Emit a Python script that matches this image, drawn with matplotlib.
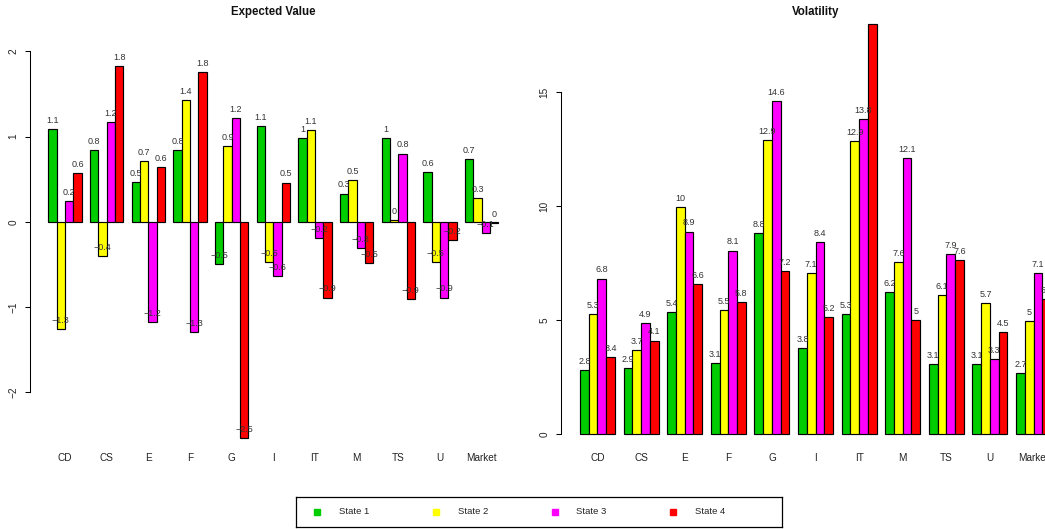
import matplotlib
matplotlib.use("Agg")
import matplotlib.pyplot as plt

plt.rcParams['font.family'] = ['Liberation Sans', 'DejaVu Sans']

sectors = ["CD", "CS", "E", "F", "G", "I", "IT", "M", "TS", "U", "Market"]
states = ["State 1", "State 2", "State 3", "State 4"]
state_colors = ["#00CD00", "#FFFF00", "#FF00FF", "#FF0000"]

# Expected value per sector, one list per state
ev_state1 = [1.09, 0.84, 0.47, 0.84, -0.50, 1.12, 0.98, 0.33, 0.98, 0.58, 0.74]
ev_state2 = [-1.26, -0.40, 0.71, 1.43, 0.89, -0.47, 1.08, 0.49, 0.02, -0.47, 0.28]
ev_state3 = [0.24, 1.17, -1.18, -1.30, 1.22, -0.64, -0.19, -0.31, 0.80, -0.89, -0.13]
ev_state4 = [0.57, 1.83, 0.64, 1.76, -2.54, 0.46, -0.89, -0.49, -0.91, -0.22, -0.02]

# Volatility per sector, one list per state
vol_state1 = [2.83, 2.89, 5.36, 3.11, 8.82, 3.77, 5.26, 6.23, 3.08, 3.10, 2.68]
vol_state2 = [5.28, 3.70, 9.98, 5.46, 12.92, 7.09, 12.86, 7.56, 6.10, 5.74, 4.97]
vol_state3 = [6.83, 4.88, 8.89, 8.06, 14.60, 8.42, 13.83, 12.10, 7.90, 3.29, 7.09]
vol_state4 = [3.39, 4.11, 6.58, 5.79, 7.17, 5.16, 18.00, 5.00, 7.63, 4.47, 5.93]

ev_ticks = [-2, -1, 0, 1, 2]
vol_ticks = [0, 5, 10, 15]

W, H = 1045, 529
fig = plt.figure(figsize=(W / 100, H / 100), dpi=100)

FS = 7.2
LABEL_FS = 6.5
LEG_FS = 6.8


def fmt(v):
    s = ("%.1f" % v).rstrip("0").rstrip(".")
    if s in ("-0", "-0."):
        s = "0"
    return s.replace("-", "\u2212")


def px_axes(left, right, top, bottom):
    return fig.add_axes([left / W, 1 - bottom / H, (right - left) / W, (bottom - top) / H])


def grouped_bars(ax, series, ylim, ticks, title):
    n = len(series)
    for j, (vals, col) in enumerate(zip(series, state_colors)):
        xs = [1 + (n + 1) * i + j for i in range(len(vals))]
        ax.bar(xs, vals, width=1.0, align="edge", color=col,
               edgecolor="black", linewidth=0.85, clip_on=False, zorder=2)
        for x, v in zip(xs, vals):
            ax.annotate(fmt(v), (x + 0.5, v), xytext=(0, 6.2),
                        textcoords="offset points", ha="center", va="center",
                        fontsize=LABEL_FS, color="#333333", clip_on=True, zorder=3)
    centers = [1 + (n + 1) * i + n / 2 for i in range(len(sectors))]
    span = (n + 1) * len(sectors) - 1
    ax.set_xlim(1 - 0.04 * span, 1 + span + 0.04 * span)
    ax.set_ylim(*ylim)
    ax.set_xticks(centers)
    ax.set_xticklabels(sectors, fontsize=FS, color="#222222")
    ax.tick_params(axis="x", length=0, pad=2.2)
    ax.set_yticks(ticks)
    ax.set_yticklabels([str(t).replace("-", "\u2212") for t in ticks],
                       fontsize=FS, color="#222222", rotation=90, va="center")
    ax.tick_params(axis="y", length=3.8, width=0.75, pad=4.6)
    for side in ("top", "right", "bottom"):
        ax.spines[side].set_visible(False)
    ax.spines["left"].set_bounds(ticks[0], ticks[-1])
    ax.spines["left"].set_linewidth(0.75)
    ax.patch.set_visible(False)
    pos = ax.get_position()
    fig.text(pos.x0 + pos.width / 2, 1 - 12.3 / H, title, ha="center", va="center",
             fontsize=8.3, fontweight="bold", color="#111111")


# plot regions in pixel coordinates (left, right, top, bottom)
ax1 = px_axes(30.3, 516.3, 23, 450)
grouped_bars(ax1, [ev_state1, ev_state2, ev_state3, ev_state4],
             ((221.7 - 450) / 85.2, (221.7 - 23) / 85.2), ev_ticks, "Expected Value")

ax2 = px_axes(561.2, 1069.8, 23, 450)
grouped_bars(ax2, [vol_state1, vol_state2, vol_state3, vol_state4],
             ((434.3 - 450) / 22.8, (434.3 - 23) / 22.8), vol_ticks, "Volatility")

# legend box along the bottom
lg = px_axes(295.7, 781.7, 496.7, 527.3)
lg.set_xlim(0, 1)
lg.set_ylim(0, 1)
lg.set_xticks([])
lg.set_yticks([])
for sp in lg.spines.values():
    sp.set_linewidth(0.9)
    sp.set_color("black")
for k, (name, col) in enumerate(zip(states, state_colors)):
    x0 = 0.0444 + 0.2443 * k
    lg.plot([x0], [0.5], marker="s", markersize=3.8, color=col, linestyle="none")
    lg.text(x0 + 0.0445, 0.5, name, ha="left", va="center", fontsize=LEG_FS, color="#222222")

fig.savefig("out.png", dpi=100)
